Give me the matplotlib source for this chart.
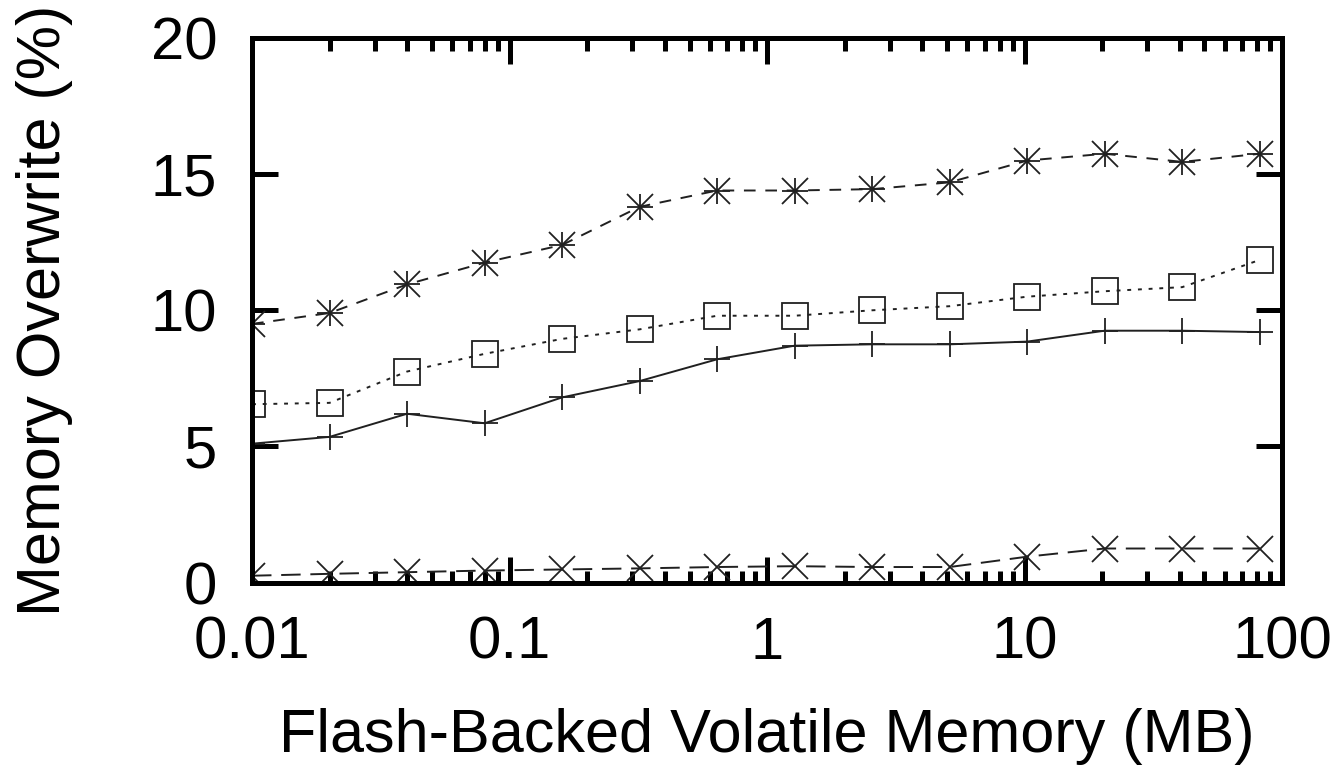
import matplotlib
matplotlib.use("Agg")
import matplotlib.pyplot as plt
from matplotlib.ticker import LogLocator, FixedLocator, NullFormatter

plt.rcParams['font.family'] = ['Liberation Sans', 'DejaVu Sans']

x_mb = [0.01, 0.02, 0.04, 0.08, 0.16, 0.32, 0.64, 1.28, 2.56, 5.12, 10.24, 20.48, 40.96, 81.92]
star_vals = [9.5, 9.9, 10.95, 11.75, 12.4, 13.8, 14.4, 14.4, 14.45, 14.7, 15.5, 15.75, 15.45, 15.75]
square_vals = [6.55, 6.6, 7.75, 8.4, 8.95, 9.3, 9.8, 9.8, 10.0, 10.15, 10.5, 10.7, 10.85, 11.85]
plus_vals = [5.1, 5.35, 6.2, 5.85, 6.8, 7.4, 8.2, 8.7, 8.75, 8.75, 8.85, 9.25, 9.25, 9.2]
cross_vals = [0.25, 0.32, 0.38, 0.44, 0.48, 0.52, 0.57, 0.6, 0.57, 0.57, 0.95, 1.25, 1.25, 1.25]

x_ticks = [0.01, 0.1, 1, 10, 100]
x_ticklabels = ["0.01", "0.1", "1", "10", "100"]
y_ticks = [0, 5, 10, 15, 20]

fig = plt.figure(figsize=(13.42, 7.67), dpi=100)
ax = fig.add_axes([0.1878, 0.2405, 0.9553 - 0.1878, 0.9504 - 0.2405])

lc = '#202020'
ms = 19
lw = 1.4

# asterisk series (dashed)
ax.plot(x_mb, star_vals, color=lc, lw=lw, dashes=(6, 5), marker='+', ms=ms, mew=1.3, mec='#202020')
ax.plot(x_mb, star_vals, ls='none', marker='x', ms=ms, mew=1.3, mec='#202020')
# square series (dotted)
ax.plot(x_mb, square_vals, color=lc, lw=lw, dashes=(2, 3.5), marker='s', ms=ms, mew=1.3,
        mfc='none', mec='#202020')
# plus series (solid)
ax.plot(x_mb, plus_vals, color=lc, lw=lw, ls='-', marker='+', ms=ms, mew=1.3, mec='#202020')
# cross series (long dashed)
ax.plot(x_mb, cross_vals, color=lc, lw=lw, dashes=(10, 5), marker='x', ms=ms, mew=1.3, mec='#202020')

ax.set_xscale('log')
ax.set_xlim(0.01, 100)
ax.set_ylim(0, 20)
ax.xaxis.set_major_locator(FixedLocator(x_ticks))
ax.set_xticklabels(x_ticklabels)
ax.xaxis.set_minor_locator(LogLocator(base=10, subs=range(2, 10)))
ax.xaxis.set_minor_formatter(NullFormatter())
ax.set_yticks(y_ticks)

for s in ax.spines.values():
    s.set_linewidth(3.6)
    s.set_color('black')

ax.tick_params(axis='both', which='major', direction='in', length=19, width=3.6,
               labelsize=43, top=True, right=True, pad=25)
ax.tick_params(axis='x', which='minor', direction='in', length=9, width=3.6, top=True)
ax.tick_params(axis='x', which='major', pad=24)

ax.set_xlabel('Flash-Backed Volatile Memory (MB)', fontsize=44, labelpad=27)
ax.set_ylabel('Memory Overwrite (%)', fontsize=44, labelpad=56)

fig.savefig('out.png', dpi=100)
